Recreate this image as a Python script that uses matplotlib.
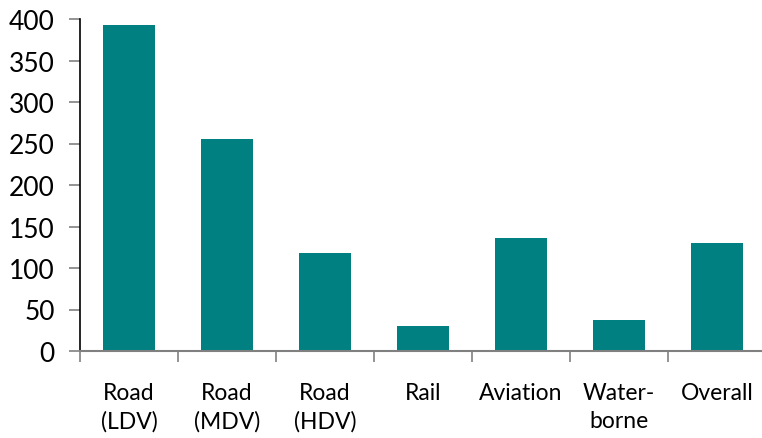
import matplotlib.pyplot as plt
import numpy as np

categories = ['Road\n(LDV)', 'Road\n(MDV)', 'Road\n(HDV)', 'Rail', 'Aviation', 'Water-\nborne', 'Overall']
values = [393, 255, 118, 30, 136, 37, 130]

plt.rcParams['font.family'] = ['Lato', 'DejaVu Sans']

W, H = 762, 439
fig = plt.figure(figsize=(W / 100, H / 100), dpi=100)
ax = fig.add_axes([80 / W, 87 / H, 686 / W, 332 / H])

x = np.arange(len(categories))
ax.bar(x, values, width=0.53, color='#008080', zorder=2)

ax.set_xlim(-0.5, len(categories) - 0.5)
ax.set_ylim(0, 400)
ax.set_yticks(range(0, 401, 50))
ax.tick_params(axis='y', labelsize=19, length=8, width=1.2, color='#808080', pad=10)

ax.set_xticks(x)
ax.set_xticklabels(categories, fontsize=16.5, linespacing=1.45)
ax.set_xticks(np.arange(-0.5, len(categories), 1), minor=True)
ax.tick_params(axis='x', which='major', length=0, pad=22)
ax.tick_params(axis='x', which='minor', length=8, width=1.2, color='#808080')

for s in ['top', 'right']:
    ax.spines[s].set_visible(False)
ax.spines['left'].set_color('black')
ax.spines['left'].set_linewidth(1.2)
ax.spines['bottom'].set_color('#808080')
ax.spines['bottom'].set_linewidth(1.5)

fig.savefig('out.png', dpi=100)
